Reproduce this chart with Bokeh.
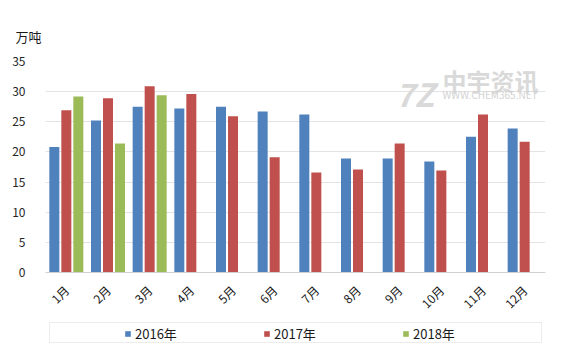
import math
from bokeh.plotting import figure
from bokeh.layouts import column
from bokeh.models import (FactorRange, Range1d, Legend, LegendItem, Label,
                          SingleIntervalTicker, ColumnDataSource)
from bokeh.transform import dodge
from bokeh.embed import file_html
from bokeh.resources import INLINE

months = ["1月", "2月", "3月", "4月", "5月", "6月", "7月", "8月", "9月", "10月", "11月", "12月"]
y2016 = [20.8, 25.2, 27.5, 27.2, 27.5, 26.7, 26.2, 18.9, 18.9, 18.4, 22.5, 23.9]
y2017 = [26.9, 28.9, 30.9, 29.6, 25.9, 19.1, 16.6, 17.1, 21.4, 16.9, 26.2, 21.7]
months2018 = ["1月", "2月", "3月"]
y2018 = [29.2, 21.4, 29.4]
series_names = ["2016年", "2017年", "2018年"]
unit_label = "万吨"

FONT = "Noto Sans CJK SC"
COLORS = ["#4F81BD", "#C0504D", "#9BBB59"]

src = ColumnDataSource(dict(m=months, a=y2016, b=y2017))
src18 = ColumnDataSource(dict(m=months2018, c=y2018))

p = figure(x_range=FactorRange(*months), y_range=Range1d(0, 35),
           width=567, height=320, output_backend="svg", toolbar_location=None,
           min_border_left=45, min_border_right=22, min_border_top=61,
           min_border_bottom=48, title=unit_label)
p.outline_line_color = None
p.background_fill_color = "white"
p.title.align = "left"
p.title.offset = -30
p.title.standoff = 32
p.title.text_font = FONT
p.title.text_font_size = "13px"
p.title.text_font_style = "normal"
p.title.text_color = "#1a1a1a"

W = 0.24
OFF = 0.288
p.vbar(x=dodge("m", -OFF, range=p.x_range), top="a", width=W, source=src,
       fill_color=COLORS[0], line_color=None)
p.vbar(x=dodge("m", 0.0, range=p.x_range), top="b", width=W, source=src,
       fill_color=COLORS[1], line_color=None)
p.vbar(x=dodge("m", OFF, range=p.x_range), top="c", width=W, source=src18,
       fill_color=COLORS[2], line_color=None)

# axes
p.yaxis.ticker = SingleIntervalTicker(interval=5)
p.yaxis.axis_line_color = None
p.yaxis.major_tick_line_color = None
p.yaxis.minor_tick_line_color = None
p.yaxis.major_label_text_font = FONT
p.yaxis.major_label_text_font_size = "12px"
p.yaxis.major_label_text_color = "#262626"
p.yaxis.major_label_standoff = 14

p.xaxis.axis_line_color = "#d0d0d0"
p.xaxis.major_tick_line_color = None
p.xaxis.minor_tick_line_color = None
p.xaxis.major_label_orientation = math.pi / 4
p.xaxis.major_label_text_font = FONT
p.xaxis.major_label_text_font_size = "12px"
p.xaxis.major_label_text_color = "#1a1a1a"
p.xaxis.major_label_standoff = 9

p.xgrid.grid_line_color = None
p.ygrid.grid_line_color = "#e3e3e3"
p.ygrid.ticker = SingleIntervalTicker(interval=5)

# watermark (中宇资讯)
p.add_layout(Label(x=9.53, y=29.0, text="中宇资讯", text_font=FONT,
                   text_font_size="24px", text_font_style="bold", text_color="#d9d9d9"))
p.add_layout(Label(x=9.53, y=28.2, text="WWW.CHEM365.NET", text_font=FONT,
                   text_font_size="10px", text_color="#d3d3d3"))
p.add_layout(Label(x=8.4, y=29.85, text="7Z", text_font=FONT, text_baseline="alphabetic",
                   text_font_size="32px", text_font_style="bold italic", text_color="#d9d9d9"))

# legend strip (separate figure below the chart; its frame aligns with the chart's)
lg = figure(width=567, height=33, x_range=Range1d(45, 545), y_range=Range1d(0, 33),
            output_backend="svg", toolbar_location=None, min_border=0)
lg.axis.visible = False
lg.grid.visible = False
lg.outline_line_color = None

items = []
for name, col in zip(series_names, COLORS):
    r = lg.vbar(x=[-100], top=[0], width=1, fill_color=col, line_color=None)
    items.append(LegendItem(label=name, renderers=[r]))
legend = Legend(items=items, orientation="horizontal", location=(79, 10),
                glyph_width=7, glyph_height=7, label_standoff=4,
                label_width=50, spacing=78,
                padding=6, margin=0,
                label_text_font=FONT, label_text_font_size="13px",
                label_text_color="#1a1a1a",
                border_line_color=None, background_fill_alpha=0)
lg.add_layout(legend, "center")

# legend frame drawn as a second, empty-looking legend box
spacer = lg.vbar(x=[-100], top=[0], width=1, fill_alpha=0, line_alpha=0)
frame_box = Legend(items=[LegendItem(label=" ", renderers=[spacer])],
                   orientation="horizontal", location=(4, 10),
                   glyph_width=7, glyph_height=7, label_standoff=4,
                   label_width=468, padding=6, margin=0,
                   label_text_font=FONT, label_text_font_size="13px",
                   border_line_color="#d9d9d9", border_line_width=1,
                   background_fill_alpha=0)
lg.add_layout(frame_box, "center")

layout = column(p, lg, spacing=0)
open("out.html", "w").write(file_html(layout, INLINE))
